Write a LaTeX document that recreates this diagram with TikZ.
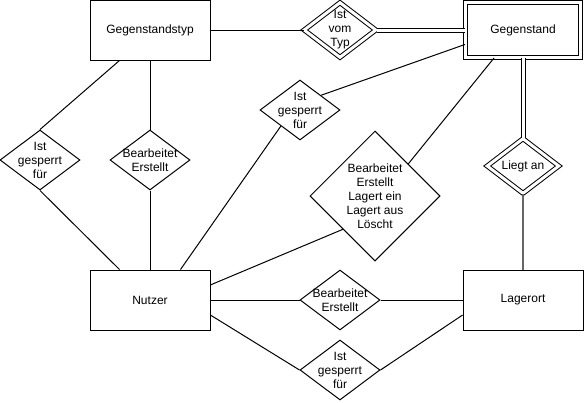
\documentclass[tikz,border=0pt]{standalone}
\usepackage{fontspec}
\setmainfont{Liberation Sans}
\usetikzlibrary{shapes.geometric}

\begin{document}
\begin{tikzpicture}[x=1pt,y=-1pt,line width=1pt,
  font=\fontsize{12}{14}\selectfont,
  entity/.style={draw,rectangle,inner sep=0pt,minimum width=120pt,minimum height=60pt},
  weakentity/.style={entity,double,double distance=3pt,minimum width=115pt,minimum height=55pt},
  rel/.style={draw,diamond,align=center,inner sep=-6pt,minimum width=80pt,minimum height=60pt},
  weakrel/.style={rel,double,double distance=3pt,minimum width=72pt,minimum height=55pt},
  dline/.style={double,double distance=3pt}]
  \useasboundingbox (0,0) rectangle (584,402);

  \node[entity] (typ) at (150,30) {Gegenstandstyp};
  \node[weakentity] (gegenstand) at (523,30) {Gegenstand};
  \node[entity] (nutzer) at (150,300) {Nutzer};
  \node[entity] (lagerort) at (523,300) {Lagerort};

  \node[weakrel] (vomtyp) at (340,30) {Ist\\vom\\Typ};
  \node[weakrel] (liegtan) at (523,166) {Liegt an};
  \node[rel] (gesperrtA) at (40,160) {Ist\\gesperrt\\für};
  \node[rel] (bearbeitetA) at (150,160) {Bearbeitet\\Erstellt};
  \node[rel] (gesperrtB) at (300,110) {Ist\\gesperrt\\für};
  \node[rel,minimum width=130pt,minimum height=130pt] (lagert) at (375,196)
    {Bearbeitet\\Erstellt\\Lagert ein\\Lagert aus\\Löscht};
  \node[rel] (bearbeitetB) at (340,300) {Bearbeitet\\Erstellt};
  \node[rel] (gesperrtC) at (340,370) {Ist\\gesperrt\\für};

  \draw (typ.east) -- (vomtyp.west);
  \draw[dline] (vomtyp.east) -- (gegenstand.west);
  \draw (typ.225) -- (gesperrtA.north);
  \draw (gesperrtA.south) -- (nutzer.135);
  \draw (typ.south) -- (bearbeitetA.north);
  \draw (bearbeitetA.south) -- (nutzer.north);
  \draw (gegenstand.194) -- (gesperrtB.35);
  \draw (gesperrtB.220) -- (nutzer.45);
  \draw (gegenstand.224) -- (lagert.44);
  \draw (lagert.226) -- (nutzer.14);
  \draw[dline] (gegenstand.south) -- (liegtan.north);
  \draw[gray!80!black,line width=1.5pt] (liegtan.south) -- (lagerort.north);
  \draw (nutzer.east) -- (bearbeitetB.west);
  \draw (bearbeitetB.east) -- (lagerort.west);
  \draw (nutzer.-14) -- (gesperrtC.west);
  \draw (gesperrtC.east) -- (lagerort.194);
\end{tikzpicture}
\end{document}
